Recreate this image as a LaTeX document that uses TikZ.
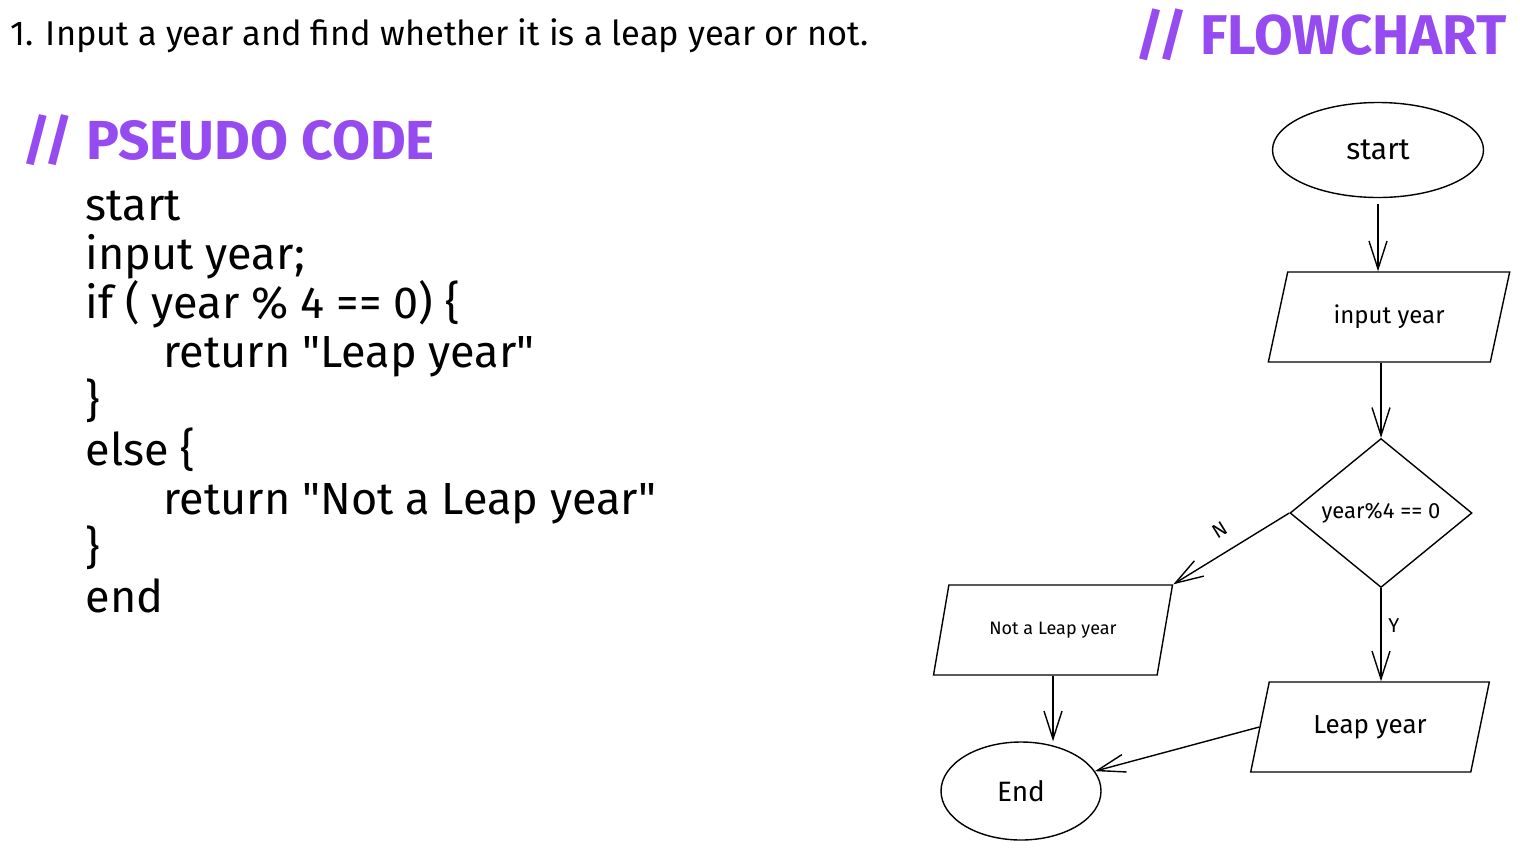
\documentclass[tikz,border=0pt]{standalone}
\usepackage{fontspec}
\setmainfont{Fira Sans}[Ligatures=TeXOff]
\usetikzlibrary{arrows.meta, positioning, shapes.geometric}
\definecolor{headviolet}{RGB}{150, 75, 240}

\begin{document}
\begin{tikzpicture}[x=0.5pt, y=-0.5pt, line width=0.7pt,
    every node/.style={font=\fontsize{12}{14}\selectfont},
    arr/.style={-{Straight Barb[length=14pt, width=9pt]}},
    term/.style={draw, ellipse, inner sep=0pt},
    iobox/.style={draw, trapezium, trapezium left angle=66, trapezium right angle=114,
      trapezium stretches=true, minimum height=45pt, inner sep=0pt},
    decide/.style={draw, diamond, inner sep=0pt, minimum width=91pt, minimum height=74.5pt},
    codeline/.style={anchor=base west, inner sep=0pt, font=\fontsize{22.5}{26}\selectfont},
    heading/.style={anchor=base west, inner sep=0pt, text=headviolet, font=\fontsize{27.5}{32}\selectfont\bfseries}]
  \useasboundingbox (0, 0) rectangle (1520, 852);

  % Task
  \node[anchor=base west, inner sep=0pt, font=\fontsize{17.2}{20}\selectfont] (task) at (10, 45)
    {1. Input a year and find whether it is a leap year or not.};

  % Headings
  \node[heading, font=\fontsize{28}{32}\selectfont\bfseries] (fchead) at (1135, 54) {// FLOWCHART};
  \node[heading] (pshead) at (22, 159) {// PSEUDO CODE};

  % Pseudo code
  \node[codeline] (ps1) at (85, 220) {start};
  \node[codeline] (ps2) at (85, 269) {input year;};
  \node[codeline] (ps3) at (85, 318) {if ( year \% 4 == 0) \{};
  \node[codeline] (ps4) at (163, 367) {return "Leap year"};
  \node[codeline] (ps5) at (85, 416) {\}};
  \node[codeline] (ps6) at (85, 465) {else \{};
  \node[codeline] (ps7) at (163, 514) {return "Not a Leap year"};
  \node[codeline] (ps8) at (85, 563) {\}};
  \node[codeline] (ps9) at (85, 612) {end};

  % Flowchart
  \node[term, minimum width=105.5pt, minimum height=47.5pt, font=\fontsize{15}{18}\selectfont]
    (start) at (1378, 150) {start};
  \node[iobox, minimum width=121pt] (input) at (1389, 317) {input year};
  \node[decide, font=\fontsize{11}{13}\selectfont] (dec) at (1381, 513) {year\%4 == 0};
  \node[iobox, trapezium left angle=60, trapezium right angle=120, minimum width=119.5pt,
    font=\fontsize{9}{11}\selectfont] (notleap) at (1053, 630) {Not a Leap year};
  \node[iobox, minimum width=120pt, font=\fontsize{13}{15}\selectfont] (leap) at (1370, 727) {Leap year};
  \node[term, minimum width=80pt, minimum height=49pt, font=\fontsize{14}{16}\selectfont]
    (end) at (1021, 791) {End};

  % Connectors
  \draw[arr] (start.south) ++(0, 6) coordinate (s0) -- (s0 |- input.north);
  \draw[arr] (dec.north |- input.south) -- (dec.north);
  \draw[arr] (dec.west) -- (notleap.top right corner)
    node[midway, above, sloped, yshift=4pt, font=\fontsize{10}{12}\selectfont] (nlab) {N};
  \draw[arr] (dec.south) -- (dec.south |- leap.north)
    node[pos=0.4, right, font=\fontsize{10}{12}\selectfont] (ylab) {Y};
  \draw[arr] (notleap.south) -- (notleap.south |- end.north);
  \draw[arr] (leap.west) -- (end);
\end{tikzpicture}
\end{document}
